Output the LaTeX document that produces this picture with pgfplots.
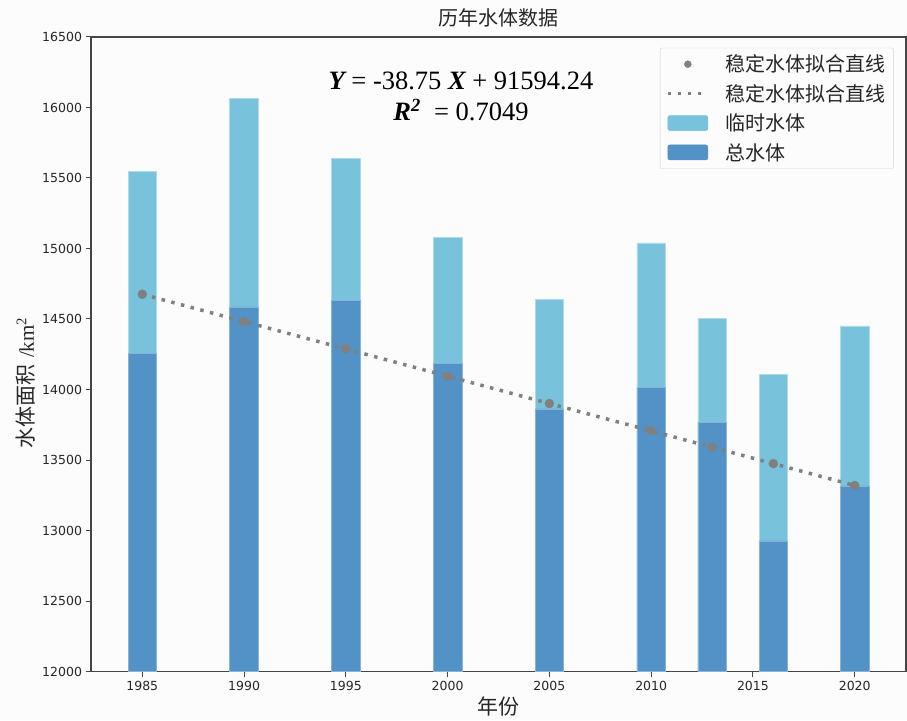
\documentclass[border=0pt]{standalone}
\usepackage{fontspec}
\setmainfont{DejaVu Sans}
\newfontfamily\cjk{Noto Sans CJK SC}
\newfontfamily\serif{Liberation Serif}
\usepackage{pgfplots}
\pgfplotsset{compat=1.18}
\definecolor{lightb}{RGB}{120,194,220}
\definecolor{darkb}{RGB}{82,146,198}
\definecolor{dotgray}{RGB}{128,128,128}
\definecolor{axgray}{RGB}{70,70,70}
\definecolor{bgc}{RGB}{252,252,252}
\begin{document}
\begin{tikzpicture}
\fill[bgc] (-91pt,-48.5pt) rectangle (816pt,671.5pt);
\begin{axis}[
  at={(0pt,0pt)}, anchor=south west,
  scale only axis, width=815pt, height=634.5pt,
  xmin=1982.48, xmax=2022.52, ymin=12000, ymax=16500,
  xtick={1985,1990,1995,2000,2005,2010,2015,2020},
  ytick={12000,12500,13000,13500,14000,14500,15000,15500,16000,16500},
  scaled ticks=false,
  /pgf/number format/.cd, 1000 sep={}, assume math mode=true, /pgfplots/.cd,
  tick pos=left, tick align=outside,
  major tick length=5.5pt,
  tick style={axgray, line width=1pt},
  axis line style={axgray, line width=1.2pt},
  axis background/.style={fill=bgc},
  xticklabel style={font=\fontsize{12.5}{14}\selectfont, black!85, yshift=-1pt},
  yticklabel style={font=\fontsize{12.5}{14}\selectfont, black!85},
  title={\cjk 历年水体数据},
  title style={at={(rel axis cs:0.5,1)}, anchor=base, yshift=5pt, inner sep=0pt, font=\fontsize{20}{24}\selectfont, black!85},
  xlabel={\cjk 年份},
  xlabel style={at={(rel axis cs:0.5,0)}, anchor=base, yshift=-43pt, inner sep=0pt, font=\fontsize{21}{24}\selectfont, black!85},
  ylabel={{\cjk 水体面积} {\serif /km\textsuperscript{2}}},
  ylabel style={at={(rel axis cs:0,0.4547)}, anchor=center, yshift=65pt, inner sep=0pt, font=\fontsize{21}{24}\selectfont, black!85},
  legend cell align=left,
  legend style={at={(rel axis cs:0.985,0.983)}, anchor=north east,
    draw=black!18, rounded corners=2pt, fill=bgc,
    font=\cjk\fontsize{20}{24}\selectfont, text=black!85,
    row sep=7pt, inner xsep=6pt, inner ysep=5pt,
    /tikz/every odd column/.append style={column sep=14pt}},
]
\addlegendimage{legend image code/.code={\fill[dotgray] (20pt,0pt) circle (3.5pt);}}
\addlegendentry{稳定水体拟合直线}
\addlegendimage{legend image code/.code={\draw[dotgray, line width=3.5pt, dash pattern=on 3.5pt off 6.5pt] (0pt,0pt) -- (40pt,0pt);}}
\addlegendentry{稳定水体拟合直线}
\addlegendimage{legend image code/.code={\fill[lightb] (0pt,-7.5pt) rectangle (40pt,7.5pt);}}
\addlegendentry{临时水体}
\addlegendimage{legend image code/.code={\fill[darkb] (0pt,-7.5pt) rectangle (40pt,7.5pt);}}
\addlegendentry{总水体}

\addplot[ybar, bar width=1.4, bar shift=0pt, fill=lightb, draw=lightb!60!white, line width=0.7pt, forget plot] coordinates {
(1985,15546) (1990,16062) (1995,15639) (2000,15076) (2005,14641) (2010,15040) (2013,14503) (2016,14109) (2020,14451)};
\addplot[ybar, bar width=1.4, bar shift=0pt, fill=darkb, draw=darkb!70!white, line width=0.7pt, forget plot] coordinates {
(1985,14253) (1990,14586) (1995,14631) (2000,14184) (2005,13862) (2010,14014) (2013,13768) (2016,12926) (2020,13316)};
\addplot[dotgray, line width=3.5pt, dash pattern=on 3.5pt off 6.5pt, forget plot] coordinates {
(1985,14675.49) (1990,14481.74) (1995,14287.99) (2000,14094.24) (2005,13900.49) (2010,13706.74) (2013,13590.49) (2016,13474.24) (2020,13319.24)};
\addplot[color=dotgray, only marks, mark=*, mark size=4.5pt, mark options={solid, fill=dotgray, draw=dotgray}, forget plot] coordinates {
(1985,14675.49) (1990,14481.74) (1995,14287.99) (2000,14094.24) (2005,13900.49) (2010,13706.74) (2013,13590.49) (2016,13474.24) (2020,13319.24)};

\node[anchor=base, inner sep=0pt, font=\serif\fontsize{26.5}{30}\selectfont] at (rel axis cs:0.454,0.917) {{\bfseries\itshape Y} = -38.75 {\bfseries\itshape X} + 91594.24};
\node[anchor=base, inner sep=0pt, font=\serif\fontsize{26.5}{30}\selectfont] at (rel axis cs:0.454,0.869) {{\bfseries\itshape R\textsuperscript{2}}\ \ = 0.7049};
\end{axis}
\pgfresetboundingbox
\path[use as bounding box] (-91pt,-48.5pt) rectangle (816pt,671.5pt);
\end{tikzpicture}
\end{document}
